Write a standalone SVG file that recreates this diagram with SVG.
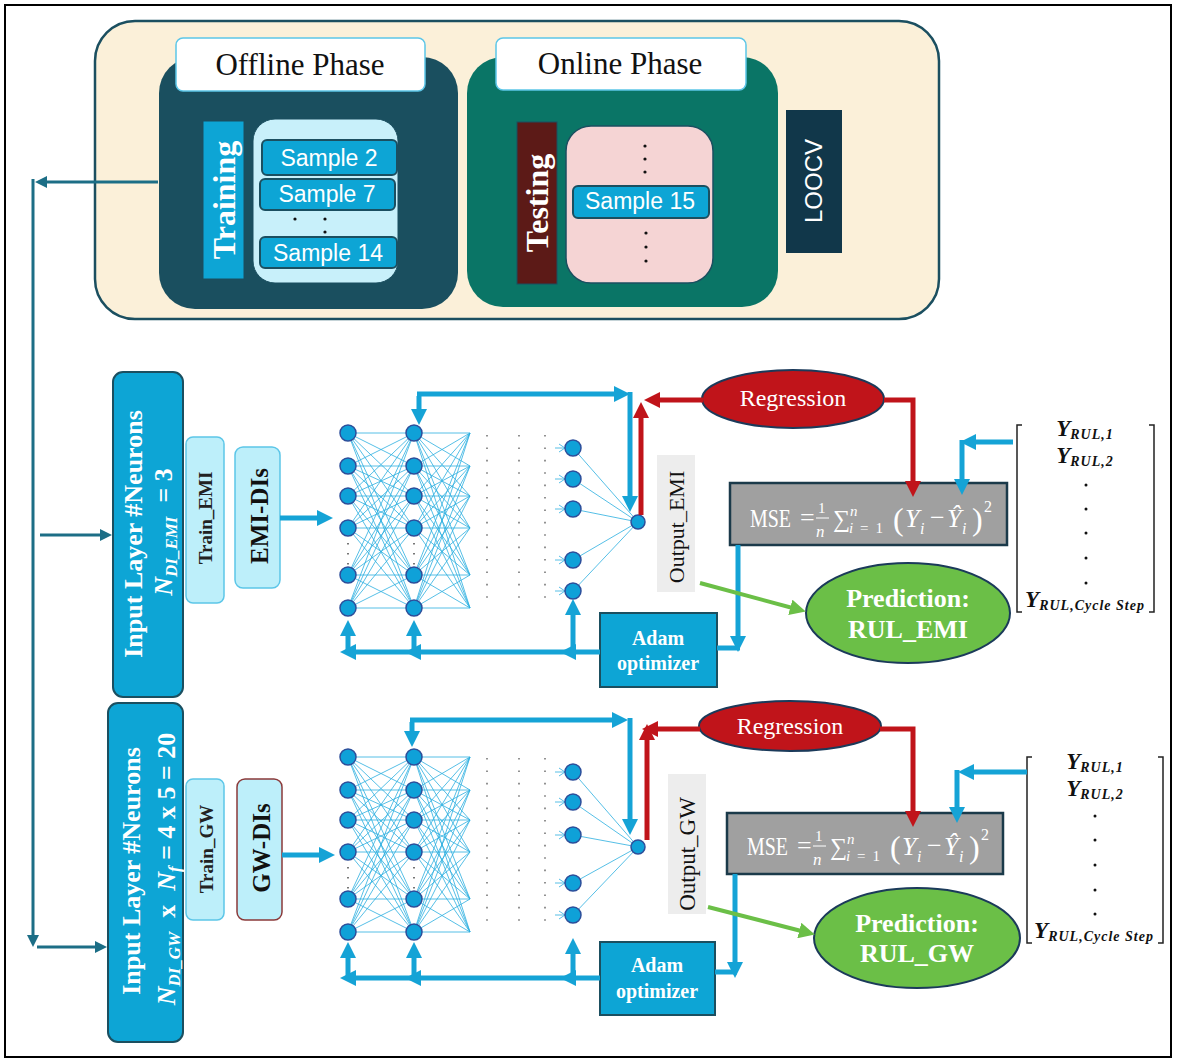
<svg xmlns="http://www.w3.org/2000/svg" width="1177" height="1061" viewBox="0 0 1177 1061">
<defs>
<style>
.sf{font-family:"Liberation Serif","Times New Roman",serif}
.ss{font-family:"Liberation Sans",Arial,sans-serif}
.bl{fill:none;stroke:#15A3D6;stroke-width:5}
.rd{fill:none;stroke:#C0141A;stroke-width:5}
.gr{fill:none;stroke:#6BBF47;stroke-width:4}
.tl{fill:none;stroke:#1C6E86;stroke-width:3}
.mesh{fill:none;stroke:#2BAEE0;stroke-width:0.8}
.nr{fill:#0FA1D8;stroke:#2D4E9A;stroke-width:1.5}
.dots{stroke:#777;stroke-width:1.6;stroke-dasharray:1.6 10.8}
.dots2{stroke:#555;stroke-width:1.6;stroke-dasharray:1.6 8.4}
.smp{fill:#0DA5D5;stroke:#1B4F60;stroke-width:2}
.smpt{font-family:"Liberation Sans",Arial,sans-serif;font-size:23px;fill:#fff;text-anchor:middle}
.wt{fill:#fff}
.bx{fill:#0DA5D5;stroke:#1B4F60;stroke-width:2}
.lc{fill:#BDEFFA;stroke:#5CC6E8;stroke-width:1.5}
.yr{font-family:"Liberation Serif","Times New Roman",serif;font-weight:bold;font-style:italic;font-size:23px;fill:#111;text-anchor:middle}
.br{fill:none;stroke:#222;stroke-width:1.5}
.mse{font-family:"Liberation Serif","Times New Roman",serif;fill:#fff}
</style>
<marker id="ba" markerUnits="userSpaceOnUse" markerWidth="16" markerHeight="16" refX="10" refY="8" orient="auto"><path d="M0,0 L16,8 L0,16 z" fill="#15A3D6"/></marker>
<marker id="ra" markerUnits="userSpaceOnUse" markerWidth="16" markerHeight="16" refX="10" refY="8" orient="auto"><path d="M0,0 L16,8 L0,16 z" fill="#C0141A"/></marker>
<marker id="ga" markerUnits="userSpaceOnUse" markerWidth="16" markerHeight="16" refX="10" refY="8" orient="auto"><path d="M0,0 L16,8 L0,16 z" fill="#6BBF47"/></marker>
<marker id="ta" markerUnits="userSpaceOnUse" markerWidth="12" markerHeight="12" refX="8" refY="6" orient="auto"><path d="M0,0 L12,6 L0,12 z" fill="#1C6E86"/></marker>
<path id="m66" class="mesh" d="M0 0L66 0M0 0L66 33M0 0L66 63M0 0L66 95M0 0L66 142M0 0L66 175M0 33L66 0M0 33L66 33M0 33L66 63M0 33L66 95M0 33L66 142M0 33L66 175M0 63L66 0M0 63L66 33M0 63L66 63M0 63L66 95M0 63L66 142M0 63L66 175M0 95L66 0M0 95L66 33M0 95L66 63M0 95L66 95M0 95L66 142M0 95L66 175M0 142L66 0M0 142L66 33M0 142L66 63M0 142L66 95M0 142L66 142M0 142L66 175M0 175L66 0M0 175L66 33M0 175L66 63M0 175L66 95M0 175L66 142M0 175L66 175"/>
<path id="m56" class="mesh" d="M0 0L56 0M0 0L56 33M0 0L56 63M0 0L56 95M0 0L56 142M0 0L56 175M0 33L56 0M0 33L56 33M0 33L56 63M0 33L56 95M0 33L56 142M0 33L56 175M0 63L56 0M0 63L56 33M0 63L56 63M0 63L56 95M0 63L56 142M0 63L56 175M0 95L56 0M0 95L56 33M0 95L56 63M0 95L56 95M0 95L56 142M0 95L56 175M0 142L56 0M0 142L56 33M0 142L56 63M0 142L56 95M0 142L56 142M0 142L56 175M0 175L56 0M0 175L56 33M0 175L56 63M0 175L56 95M0 175L56 142M0 175L56 175"/>
<g id="col">
<circle class="nr" cx="0" cy="0" r="8"/><circle class="nr" cx="0" cy="33" r="8"/><circle class="nr" cx="0" cy="63" r="8"/><circle class="nr" cx="0" cy="95" r="8"/><circle class="nr" cx="0" cy="142" r="8"/><circle class="nr" cx="0" cy="175" r="8"/>
<line class="dots2" x1="0" y1="110" x2="0" y2="132"/>
</g>
<g id="formula">
<text x="0" y="0" font-size="26" textLength="41" lengthAdjust="spacingAndGlyphs">MSE</text>
<text x="50" y="-1" font-size="26">=</text>
<text x="68" y="-14" font-size="15">1</text>
<line x1="66" y1="-9" x2="79" y2="-9" stroke="#fff" stroke-width="1"/>
<text x="66" y="10" font-size="17" font-style="italic">n</text>
<text x="83" y="0" font-size="24">∑</text>
<text x="100" y="-11" font-size="15" font-style="italic">n</text>
<text x="99" y="6" font-size="15" textLength="34" lengthAdjust="spacing"><tspan font-style="italic">i</tspan>=1</text>
<text x="143" y="3" font-size="32">(</text>
<text x="155" y="0" font-size="26" font-style="italic">Y</text>
<text x="170" y="7" font-size="16" font-style="italic">i</text>
<text x="180" y="-1" font-size="26">−</text>
<text x="197" y="0" font-size="26" font-style="italic">Ŷ</text>
<text x="212" y="7" font-size="16" font-style="italic">i</text>
<text x="222" y="3" font-size="32">)</text>
<text x="234" y="-15" font-size="16">2</text>
</g>
</defs>
<rect x="0" y="0" width="1177" height="1061" fill="#fff"/>
<rect x="5" y="5" width="1166" height="1052" fill="none" stroke="#000" stroke-width="2"/>

<!-- top panel -->
<g id="phase-panel">
<rect x="95" y="21" width="844" height="298" rx="40" fill="#FBF0D9" stroke="#1B4F60" stroke-width="2.5"/>
</g>
<g id="offline-phase">
<rect x="159" y="57" width="299" height="252" rx="36" fill="#1A4F5F"/>
<rect x="176" y="38" width="249" height="53" rx="7" fill="#fff" stroke="#5CC6E8" stroke-width="1.5"/>
<text x="300" y="75" class="sf" font-size="31" text-anchor="middle" fill="#111">Offline Phase</text>
</g>
<g id="training">
<rect x="203" y="121" width="41" height="158" fill="#0DA5D5" stroke="#1B4F60" stroke-width="1"/>
<text transform="translate(235,200) rotate(-90)" class="sf wt" font-size="32" font-weight="bold" text-anchor="middle">Training</text>
</g>
<g id="training-samples">
<rect x="253" y="119" width="145" height="164" rx="22" fill="#C8F0FA" stroke="#1B4F60" stroke-width="1"/>
<rect class="smp" x="262" y="140" width="135" height="35" rx="5"/>
<text x="329" y="166" class="smpt">Sample 2</text>
<rect class="smp" x="260" y="179" width="135" height="31" rx="5"/>
<text x="327" y="202" class="smpt">Sample 7</text>
<circle cx="295" cy="219" r="1.6" fill="#111"/><circle cx="325" cy="219" r="1.6" fill="#111"/><circle cx="325" cy="232" r="1.6" fill="#111"/>
<rect class="smp" x="260" y="237" width="137" height="31" rx="5"/>
<text x="328" y="261" class="smpt">Sample 14</text>
</g>
<g id="online-phase">
<rect x="467" y="57" width="311" height="250" rx="36" fill="#0A7566"/>
<rect x="496" y="38" width="250" height="52" rx="7" fill="#fff" stroke="#5CC6E8" stroke-width="1.5"/>
<text x="620" y="74" class="sf" font-size="31" text-anchor="middle" fill="#111">Online Phase</text>
</g>
<g id="testing">
<rect x="517" y="122" width="40" height="162" fill="#5C1A17" stroke="#1B4F60" stroke-width="1"/>
<text transform="translate(548,203) rotate(-90)" class="sf wt" font-size="32" font-weight="bold" text-anchor="middle">Testing</text>
</g>
<g id="testing-samples">
<rect x="566" y="126" width="147" height="157" rx="25" fill="#F5D4D4" stroke="#1B4F60" stroke-width="1.5"/>
<circle cx="645" cy="146" r="1.6" fill="#111"/><circle cx="645" cy="159" r="1.6" fill="#111"/><circle cx="645" cy="172" r="1.6" fill="#111"/>
<rect class="smp" x="573" y="186" width="136" height="32" rx="5"/>
<text x="640" y="209" class="smpt">Sample 15</text>
<circle cx="646" cy="233" r="1.6" fill="#111"/><circle cx="646" cy="247" r="1.6" fill="#111"/><circle cx="646" cy="261" r="1.6" fill="#111"/>
</g>
<g id="loocv">
<rect x="786" y="110" width="56" height="143" fill="#11374A"/>
<text transform="translate(822,181) rotate(-90)" class="ss wt" font-size="24" text-anchor="middle">LOOCV</text>
</g>

<!-- EMI branch -->
<g id="input-emi">
<rect class="bx" x="113" y="372" width="70" height="325" rx="10"/>
<text transform="translate(142,534) rotate(-90)" class="sf wt" font-size="26" font-weight="bold" text-anchor="middle">Input Layer #Neurons</text>
<text transform="translate(172,532) rotate(-90)" class="sf wt" font-size="26" font-weight="bold" text-anchor="middle"><tspan font-style="italic">N</tspan><tspan font-style="italic" font-size="17" dy="5">DI_EMI</tspan><tspan dy="-5" dx="14">= 3</tspan></text>
</g>
<g id="train-emi">
<rect class="lc" x="186" y="437" width="38" height="166" rx="7"/>
<text transform="translate(212,518) rotate(-90)" class="sf" font-size="19" font-weight="bold" fill="#222" text-anchor="middle">Train_EMI</text>
</g>
<g id="emi-dis">
<rect class="lc" x="235" y="447" width="45" height="141" rx="8"/>
<text transform="translate(268,516) rotate(-90)" class="sf" font-size="25" font-weight="bold" fill="#111" text-anchor="middle">EMI-DIs</text>
</g>
<g id="network-emi">
<use href="#m66" x="348" y="433"/>
<use href="#m56" x="414" y="433"/>
<use href="#col" x="348" y="433"/>
<use href="#col" x="414" y="433"/>
<line class="dots" x1="487" y1="435" x2="487" y2="606"/>
<line class="dots" x1="519" y1="435" x2="519" y2="606"/>
<line class="dots" x1="545" y1="435" x2="545" y2="606"/>
<path class="mesh" d="M573,448L638,522M573,479L638,522M573,509L638,522M573,560L638,522M573,591L638,522"/>
<path class="mesh" d="M555,448H565M559,444L565,448L559,452M555,479H565M559,475L565,479L559,483M555,509H565M559,505L565,509L559,513M555,560H565M559,556L565,560L559,564M555,591H565M559,587L565,591L559,595"/>
<circle class="nr" cx="573" cy="448" r="8"/><circle class="nr" cx="573" cy="479" r="8"/><circle class="nr" cx="573" cy="509" r="8"/><circle class="nr" cx="573" cy="560" r="8"/><circle class="nr" cx="573" cy="591" r="8"/>
<circle class="nr" cx="638" cy="522" r="7"/>
</g>
<g id="output-emi">
<rect x="657" y="455" width="38" height="137" fill="#EDEDED"/>
<text transform="translate(684,527) rotate(-90)" class="sf" font-size="22" fill="#111" text-anchor="middle">Output_EMI</text>
</g>
<g id="regression-emi">
<ellipse cx="793" cy="399" rx="91" ry="29" fill="#C0141A" stroke="#1B3A5A" stroke-width="2"/>
<text x="793" y="406" class="sf wt" font-size="24" text-anchor="middle">Regression</text>
</g>
<g id="mse-emi">
<rect x="730" y="483" width="277" height="62" fill="#A0A0A0" stroke="#1B3A4A" stroke-width="2.5"/>
<use href="#formula" class="mse" x="750" y="527"/>
</g>
<g id="yrul-emi">
<path class="br" d="M1022,425H1017V612H1022M1149,425H1154V612H1149"/>
<text x="1085" y="436" class="yr">Y<tspan font-size="14" dy="3" letter-spacing="1">RUL,1</tspan></text>
<text x="1085" y="463" class="yr">Y<tspan font-size="14" dy="3" letter-spacing="1">RUL,2</tspan></text>
<circle cx="1086" cy="485" r="1.5" fill="#111"/><circle cx="1086" cy="509" r="1.5" fill="#111"/><circle cx="1086" cy="533" r="1.5" fill="#111"/><circle cx="1086" cy="558" r="1.5" fill="#111"/><circle cx="1086" cy="583" r="1.5" fill="#111"/>
<text x="1085" y="607" class="yr">Y<tspan font-size="14" dy="3" letter-spacing="1">RUL,Cycle Step</tspan></text>
</g>
<g id="prediction-emi">
<ellipse cx="908" cy="613" rx="102" ry="50" fill="#6BBF47" stroke="#1B3A5A" stroke-width="2"/>
<text x="908" y="607" class="sf wt" font-size="26" font-weight="bold" text-anchor="middle">Prediction:</text>
<text x="908" y="638" class="sf wt" font-size="26" font-weight="bold" text-anchor="middle">RUL_EMI</text>
</g>
<g id="adam-emi">
<rect class="bx" x="600" y="613" width="117" height="74"/>
<text x="658" y="645" class="sf wt" font-size="20" font-weight="bold" text-anchor="middle">Adam</text>
<text x="658" y="670" class="sf wt" font-size="20" font-weight="bold" text-anchor="middle">optimizer</text>
</g>

<!-- GW branch -->
<g id="input-gw">
<rect class="bx" x="108" y="703" width="75" height="339" rx="10"/>
<text transform="translate(140,871) rotate(-90)" class="sf wt" font-size="26" font-weight="bold" text-anchor="middle">Input Layer #Neurons</text>
<text transform="translate(175,869) rotate(-90)" class="sf wt" font-size="26" font-weight="bold" text-anchor="middle"><tspan font-style="italic">N</tspan><tspan font-style="italic" font-size="17" dy="5">DI_GW</tspan><tspan dy="-5" dx="14">x</tspan><tspan dx="14" font-style="italic">N</tspan><tspan font-style="italic" font-size="17" dy="5">f</tspan><tspan dy="-5"> = 4 x 5 = 20</tspan></text>
</g>
<g id="train-gw">
<rect class="lc" x="186" y="779" width="38" height="141" rx="7"/>
<text transform="translate(213,849) rotate(-90)" class="sf" font-size="19" font-weight="bold" fill="#222" text-anchor="middle">Train_GW</text>
</g>
<g id="gw-dis">
<rect x="237" y="779" width="45" height="141" rx="8" fill="#BDEFFA" stroke="#8B3A3A" stroke-width="1.5"/>
<text transform="translate(270,848) rotate(-90)" class="sf" font-size="25" font-weight="bold" fill="#111" text-anchor="middle">GW-DIs</text>
</g>
<g id="network-gw">
<use href="#m66" x="348" y="757"/>
<use href="#m56" x="414" y="757"/>
<use href="#col" x="348" y="757"/>
<use href="#col" x="414" y="757"/>
<line class="dots" x1="487" y1="758" x2="487" y2="931"/>
<line class="dots" x1="519" y1="758" x2="519" y2="931"/>
<line class="dots" x1="545" y1="758" x2="545" y2="931"/>
<path class="mesh" d="M573,772L638,847M573,802L638,847M573,835L638,847M573,883L638,847M573,915L638,847"/>
<path class="mesh" d="M555,772H565M559,768L565,772L559,776M555,802H565M559,798L565,802L559,806M555,835H565M559,831L565,835L559,839M555,883H565M559,879L565,883L559,887M555,915H565M559,911L565,915L559,919"/>
<circle class="nr" cx="573" cy="772" r="8"/><circle class="nr" cx="573" cy="802" r="8"/><circle class="nr" cx="573" cy="835" r="8"/><circle class="nr" cx="573" cy="883" r="8"/><circle class="nr" cx="573" cy="915" r="8"/>
<circle class="nr" cx="638" cy="847" r="7"/>
</g>
<g id="output-gw">
<rect x="668" y="774" width="38" height="140" fill="#EDEDED"/>
<text transform="translate(695,854) rotate(-90)" class="sf" font-size="23" fill="#111" text-anchor="middle">Output_GW</text>
</g>
<g id="regression-gw">
<ellipse cx="790" cy="726" rx="91" ry="25" fill="#C0141A" stroke="#1B3A5A" stroke-width="2"/>
<text x="790" y="734" class="sf wt" font-size="24" text-anchor="middle">Regression</text>
</g>
<g id="mse-gw">
<rect x="727" y="813" width="276" height="61" fill="#A0A0A0" stroke="#1B3A4A" stroke-width="2.5"/>
<use href="#formula" class="mse" x="747" y="855"/>
</g>
<g id="yrul-gw">
<path class="br" d="M1032,757H1027V943H1032M1158,757H1163V943H1158"/>
<text x="1095" y="769" class="yr">Y<tspan font-size="14" dy="3" letter-spacing="1">RUL,1</tspan></text>
<text x="1095" y="796" class="yr">Y<tspan font-size="14" dy="3" letter-spacing="1">RUL,2</tspan></text>
<circle cx="1095" cy="816" r="1.5" fill="#111"/><circle cx="1095" cy="840" r="1.5" fill="#111"/><circle cx="1095" cy="865" r="1.5" fill="#111"/><circle cx="1095" cy="890" r="1.5" fill="#111"/><circle cx="1095" cy="914" r="1.5" fill="#111"/>
<text x="1094" y="938" class="yr">Y<tspan font-size="14" dy="3" letter-spacing="1">RUL,Cycle Step</tspan></text>
</g>
<g id="prediction-gw">
<ellipse cx="917" cy="938" rx="103" ry="50" fill="#6BBF47" stroke="#1B3A5A" stroke-width="2"/>
<text x="917" y="932" class="sf wt" font-size="26" font-weight="bold" text-anchor="middle">Prediction:</text>
<text x="917" y="962" class="sf wt" font-size="26" font-weight="bold" text-anchor="middle">RUL_GW</text>
</g>
<g id="adam-gw">
<rect class="bx" x="600" y="942" width="115" height="73"/>
<text x="657" y="972" class="sf wt" font-size="20" font-weight="bold" text-anchor="middle">Adam</text>
<text x="657" y="998" class="sf wt" font-size="20" font-weight="bold" text-anchor="middle">optimizer</text>
</g>

<!-- connectors -->
<g id="connectors">
<path class="tl" d="M158,182H39" marker-end="url(#ta)"/>
<path class="tl" d="M33,179V943" marker-end="url(#ta)"/>
<path class="tl" d="M40,535H108" marker-end="url(#ta)"/>
<path class="tl" d="M37,947H103" marker-end="url(#ta)"/>

<path class="bl" d="M280,518H327" marker-end="url(#ba)"/>
<path class="bl" d="M419,396V419" marker-end="url(#ba)"/>
<path class="bl" d="M417,394H624" marker-end="url(#ba)"/>
<path class="bl" d="M630,392V506" marker-end="url(#ba)"/>
<path class="rd" d="M641,515V408" marker-end="url(#ra)"/>
<path class="rd" d="M703,400H650" marker-end="url(#ra)"/>
<path class="rd" d="M884,400H913V491" marker-end="url(#ra)"/>
<path class="bl" d="M1013,442H966" marker-end="url(#ba)"/>
<path class="bl" d="M962,440V489" marker-end="url(#ba)"/>
<path class="bl" d="M738,545V646" marker-end="url(#ba)"/>
<path class="bl" d="M717,648H740"/>
<path class="bl" d="M600,652H566" marker-end="url(#ba)"/>
<path class="bl" d="M566,652H411" marker-end="url(#ba)"/>
<path class="bl" d="M411,652H346" marker-end="url(#ba)"/>
<path class="bl" d="M348,654V626" marker-end="url(#ba)"/>
<path class="bl" d="M414,654V626" marker-end="url(#ba)"/>
<path class="bl" d="M573,654V605" marker-end="url(#ba)"/>
<path class="gr" d="M700,583L800,610" marker-end="url(#ga)"/>

<path class="bl" d="M282,855H329" marker-end="url(#ba)"/>
<path class="bl" d="M412,722V741" marker-end="url(#ba)"/>
<path class="bl" d="M410,720H622" marker-end="url(#ba)"/>
<path class="bl" d="M630,718V829" marker-end="url(#ba)"/>
<path class="rd" d="M647,840V730" marker-end="url(#ra)"/>
<path class="rd" d="M700,729H648" marker-end="url(#ra)"/>
<path class="rd" d="M880,729H913V821" marker-end="url(#ra)"/>
<path class="bl" d="M1027,772H964" marker-end="url(#ba)"/>
<path class="bl" d="M957,770V817" marker-end="url(#ba)"/>
<path class="bl" d="M735,874V972" marker-end="url(#ba)"/>
<path class="bl" d="M715,972H737"/>
<path class="bl" d="M600,978H566" marker-end="url(#ba)"/>
<path class="bl" d="M566,978H411" marker-end="url(#ba)"/>
<path class="bl" d="M411,978H346" marker-end="url(#ba)"/>
<path class="bl" d="M348,980V948" marker-end="url(#ba)"/>
<path class="bl" d="M414,980V948" marker-end="url(#ba)"/>
<path class="bl" d="M573,980V944" marker-end="url(#ba)"/>
<path class="gr" d="M708,907L809,933" marker-end="url(#ga)"/>
</g>
</svg>
